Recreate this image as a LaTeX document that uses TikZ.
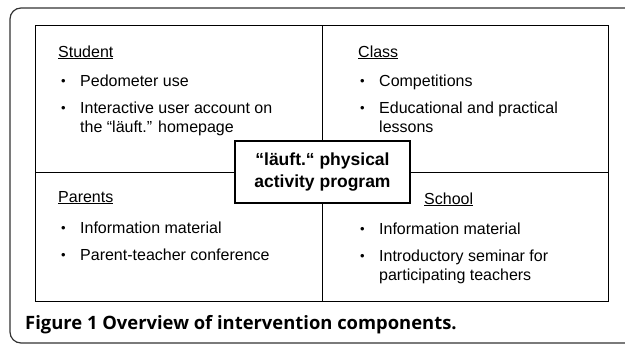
\documentclass[tikz,border=0pt]{standalone}
\usepackage{fontspec}
\setmainfont{Liberation Sans}
\newfontfamily\capfont{Open Sans}
\usetikzlibrary{positioning}

\begin{document}
\begin{tikzpicture}[x=1pt,y=-1pt,
        heading/.style={anchor=base west,inner sep=0pt,font=\fontsize{16}{18}\selectfont},
        item/.style={anchor=base west,inner sep=0pt,font=\fontsize{16}{18}\selectfont},
        dot/.style={anchor=base west,inner sep=0pt,font=\fontsize{13}{16}\selectfont},
        centrebox/.style={draw,line width=1.7pt,fill=white,minimum width=175pt,minimum height=62pt,
                          align=center,font=\bfseries\fontsize{17.5}{22}\selectfont}]
            \useasboundingbox (0,0) rectangle (625,346);

            % Draw the outer frame
            \draw[line width=1.2pt,black!80,rounded corners=11pt] (10,8) rectangle (660,343);

            % Draw the quadrants
            \draw[line width=0.8pt] (35,25) rectangle (608,301);
            \draw[line width=0.8pt] (322,25) -- (322,301);
            \draw[line width=0.8pt] (35,172) -- (608,172);

            % Draw the headings
            \node[heading] (student) at (58,57) {\underline{Student}};
            \node[heading] (class) at (358,57) {\underline{Class}};
            \node[heading] (parents) at (58,202) {\underline{Parents}};
            \node[heading] (school) at (424,204) {\underline{School}};

            % Draw the bullet items
            \foreach \x/\y/\txt[count=\c] in {
                    80/86/{Pedometer use},
                    80/113/{Interactive user account on},
                    379/86/{Competitions},
                    379/113/{Educational and practical},
                    80/233/{Information material},
                    80/260/{Parent-teacher conference},
                    379/234/{Information material},
                    379/261/{Introductory seminar for}}{
                \node[item] (i\c) at (\x,\y) {\txt};
                \node[dot] (b\c) at (\x-19,\y-1) {•};
            }

            % Draw the second lines of the long items
            \node[item] (i2b) at (80,132) {the “läuft.” homepage};
            \node[item] (i4b) at (379,132) {lessons};
            \node[item] (i8b) at (379,280) {participating teachers};

            % Draw the programme box
            \node[centrebox] (prog) at (322.5,172) {“läuft.“ physical\\activity program};

            % Draw the caption
            \node[anchor=base west,inner sep=0pt,font=\capfont\bfseries\fontsize{18.4}{20}\selectfont] (caption) at (25,329)
                {Figure 1 Overview of intervention components.};
\end{tikzpicture}
\end{document}
